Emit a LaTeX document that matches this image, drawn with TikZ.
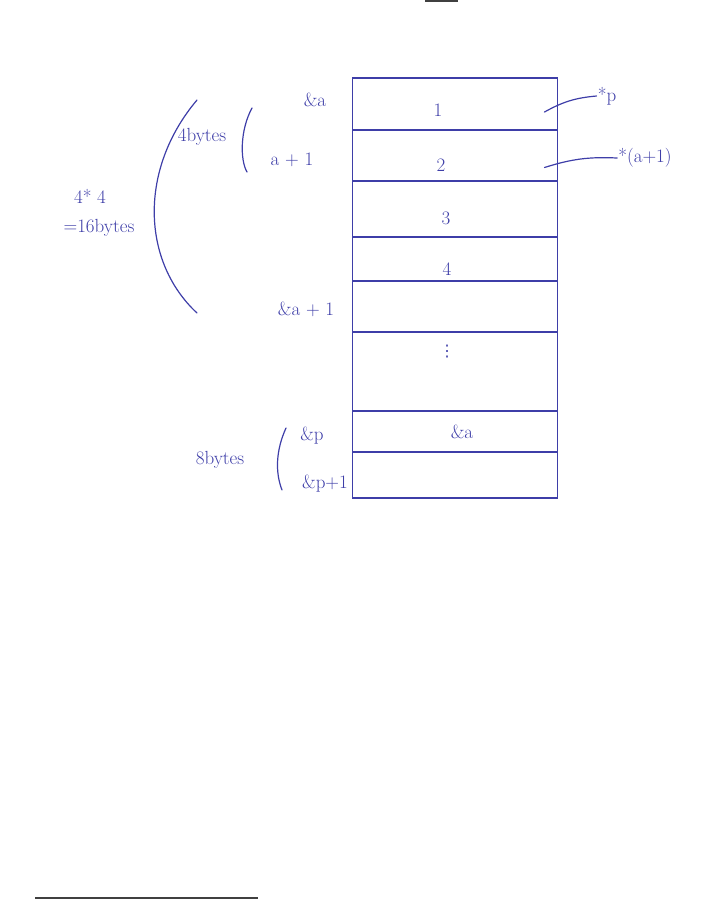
\documentclass[tikz,border=0pt]{standalone}
\usepackage{fontspec}
\newfontfamily\symfont{DejaVu Sans}
\usetikzlibrary{positioning}
\definecolor{ink}{RGB}{62,62,168}
\tikzset{
  cell/.style={draw=ink, line width=1.2pt, minimum width=205pt, inner sep=0pt, outer sep=0pt, text=ink},
  lbl/.style={text=ink, inner sep=1pt, font=\fontsize{19}{21}\selectfont},
  hand/.style={draw=ink, line width=1.2pt, line cap=round}
}
\begin{document}
\begin{tikzpicture}[x=1pt, y=-1pt]
         \useasboundingbox (0, 0) rectangle (711, 900);
         % memory column
         \node [cell, minimum height=52pt, anchor=north] (c1) at (455, 78) {};
         \node [cell, minimum height=51pt, below=0pt of c1] (c2) {};
         \node [cell, minimum height=56pt, below=0pt of c2] (c3) {};
         \node [cell, minimum height=44pt, below=0pt of c3] (c4) {};
         \node [cell, minimum height=51pt, below=0pt of c4] (c5) {};
         \node [cell, minimum height=79pt, below=0pt of c5] (c6) {};
         \node [cell, minimum height=41pt, below=0pt of c6] (c7) {};
         \node [cell, minimum height=46pt, below=0pt of c7] (c8) {};
         \node [lbl] (v1) at (438, 110) {1};
         \node [lbl] (v2) at (441, 165) {2};
         \node [lbl] (v3) at (446, 218) {3};
         \node [lbl] (v4) at (447, 269) {4};
         \node [lbl, font=\symfont\fontsize{16}{18}\selectfont] (v6) at (447, 352) {⋮};
         \node [lbl] (v7) at (462, 432) {\&a};
         % addresses
         \node [lbl] (addra) at (315, 100) {\&a};
         \node [lbl] (addra1) at (292, 160) {a + 1};
         \node [lbl] (addrnext) at (306, 309) {\&a + 1};
         \node [lbl] (addrp) at (312, 436) {\&p};
         \node [lbl] (addrp1) at (325, 484) {\&p+1};
         % sizes
         \node [lbl] (four) at (202, 137) {4bytes};
         \node [lbl] (mult) at (90, 196) {4* 4};
         \node [lbl] (sixteen) at (99, 228) {=16bytes};
         \node [lbl] (eight) at (220, 460) {8bytes};
         \draw [hand] (252, 108) .. controls (240, 130) and (240, 160) .. (247, 172);
         \draw [hand] (197, 100) .. controls (138, 170) and (142, 262) .. (197, 313);
         \draw [hand] (286, 428) .. controls (276, 450) and (275, 472) .. (282, 490);
         % pointers
         \node [lbl] (ptr) at (607, 96) {*p};
         \node [lbl] (ptrnext) at (645, 158) {*(a+1)};
         \draw [hand] ([xshift=-13pt, yshift=-8pt]c1.east) to [bend left=12] (ptr.west);
         \draw [hand] ([xshift=-13pt, yshift=-12pt]c2.east) to [bend left=10] (ptrnext.west);
         % scan marks
         \draw [line width=2pt, black!75] (35, 898) -- (258, 898);
         \draw [line width=2pt, black!75] (425, 1) -- (458, 1);
        \end{tikzpicture}
\end{document}
